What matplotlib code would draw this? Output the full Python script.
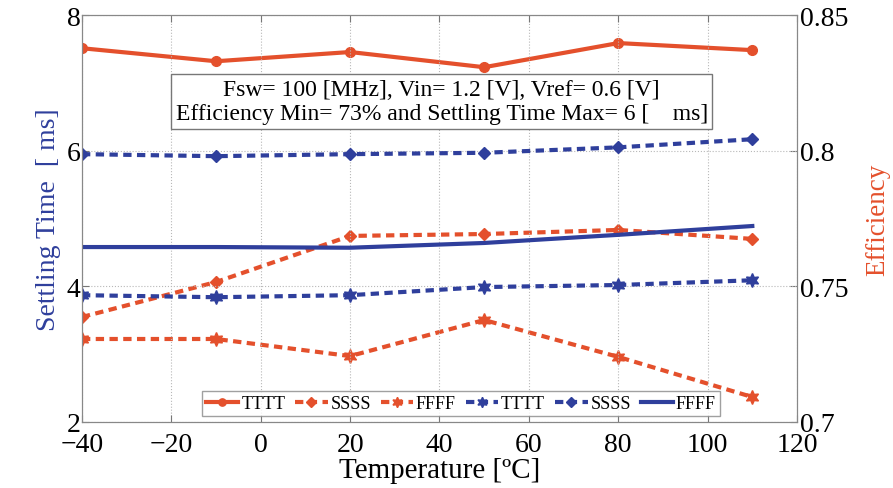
import matplotlib
matplotlib.use("Agg")
import matplotlib.pyplot as plt

temps = [-40, -10, 20, 50, 80, 110]

# efficiency (right axis, red)
eff_tttt = [0.8378, 0.8330, 0.8364, 0.8308, 0.8397, 0.8371]
eff_ssss = [0.7387, 0.7516, 0.7686, 0.7693, 0.7708, 0.7675]
eff_ffff = [0.7306, 0.7306, 0.7243, 0.7376, 0.7240, 0.7092]

# settling time in us (left axis, blue)
st_tttt = [3.87, 3.84, 3.87, 3.99, 4.02, 4.09]
st_ssss = [5.95, 5.92, 5.95, 5.97, 6.05, 6.17]
st_ffff = [4.58, 4.58, 4.57, 4.64, 4.76, 4.89]

RED = "#e4502c"
BLUE = "#2f3f9c"
SERIF = ["Liberation Serif", "DejaVu Serif"]


def visualize():
    plt.rcParams["font.family"] = SERIF
    fig = plt.figure(figsize=(8.93, 4.89), dpi=100)
    ax = fig.add_axes([0.0918, 0.135, 0.8007, 0.832])
    ax2 = ax.twinx()

    dash = (0, (2, 1.3))
    star = (6, 1, 0)
    h1, = ax2.plot(temps, eff_tttt, "-", color=RED, lw=3, marker="o", ms=7, label="TTTT")
    h2, = ax2.plot(temps, eff_ssss, color=RED, ls=dash, lw=3, marker="D", ms=6.5, label="SSSS")
    h3, = ax2.plot(temps, eff_ffff, color=RED, ls=dash, lw=3, marker=star, ms=10, label="FFFF")
    h4, = ax.plot(temps, st_tttt, color=BLUE, ls=dash, lw=3, marker=star, ms=10, label="TTTT")
    h5, = ax.plot(temps, st_ssss, color=BLUE, ls=dash, lw=3, marker="D", ms=6.5, label="SSSS")
    h6, = ax.plot(temps, st_ffff, "-", color=BLUE, lw=3, label="FFFF")

    ax.set_xlim(-40, 120)
    ax.set_ylim(2, 8)
    ax.set_xticks(range(-40, 121, 20))
    ax.set_xticklabels(["\u221240", "\u221220", "0", "20", "40", "60", "80", "100", "120"])
    ax.set_yticks([2, 4, 6, 8])
    ax2.set_ylim(0.7, 0.85)
    ax2.set_yticks([0.7, 0.75, 0.8, 0.85])
    ax2.set_yticklabels(["0.7", "0.75", "0.8", "0.85"])

    ax.grid(True, ls=":", color="#b8b8b8", lw=0.8)
    for a in (ax, ax2):
        a.tick_params(direction="in", length=5, labelsize=20, color="#777777", top=True)
        for s in a.spines.values():
            s.set_color("#888888")
    ax.tick_params(axis="x", pad=7)
    ax.tick_params(axis="y", pad=1)
    ax2.tick_params(axis="y", pad=2)

    ax.set_xlabel("Temperature [\u00baC]", fontsize=21, labelpad=0)
    ax.set_ylabel("Settling Time  [ ms]", fontsize=20, color=BLUE, labelpad=4)
    ax2.set_ylabel("Efficiency", fontsize=19.5, color=RED, labelpad=12)

    ax.set_zorder(ax2.get_zorder() + 1)
    ax.patch.set_visible(False)

    ax.text(0.503, 0.787,
            "Fsw= 100 [MHz], Vin= 1.2 [V], Vref= 0.6 [V]\n"
            "Efficiency Min= 73% and Settling Time Max= 6 [    ms]",
            transform=ax.transAxes, ha="center", va="center", fontsize=17,
            linespacing=1.2,
            bbox=dict(boxstyle="square,pad=0.2", fc="white", ec="#777777", lw=1))

    leg = ax.legend([h1, h2, h3, h4, h5, h6],
                    ["TTTT", "SSSS", "FFFF", "TTTT", "SSSS", "FFFF"],
                    loc="lower center", bbox_to_anchor=(0.53, 0.0), ncol=6,
                    fontsize=13, frameon=True, fancybox=False, handlelength=1.8,
                    handletextpad=0.15, columnspacing=0.55, borderpad=0.2,
                    borderaxespad=0.35, markerscale=0.75)
    leg.get_frame().set_edgecolor("#888888")
    leg.get_frame().set_linewidth(1)

    fig.savefig("out.png", dpi=100)


def main():
    visualize()


if __name__ == "__main__":
    main()
